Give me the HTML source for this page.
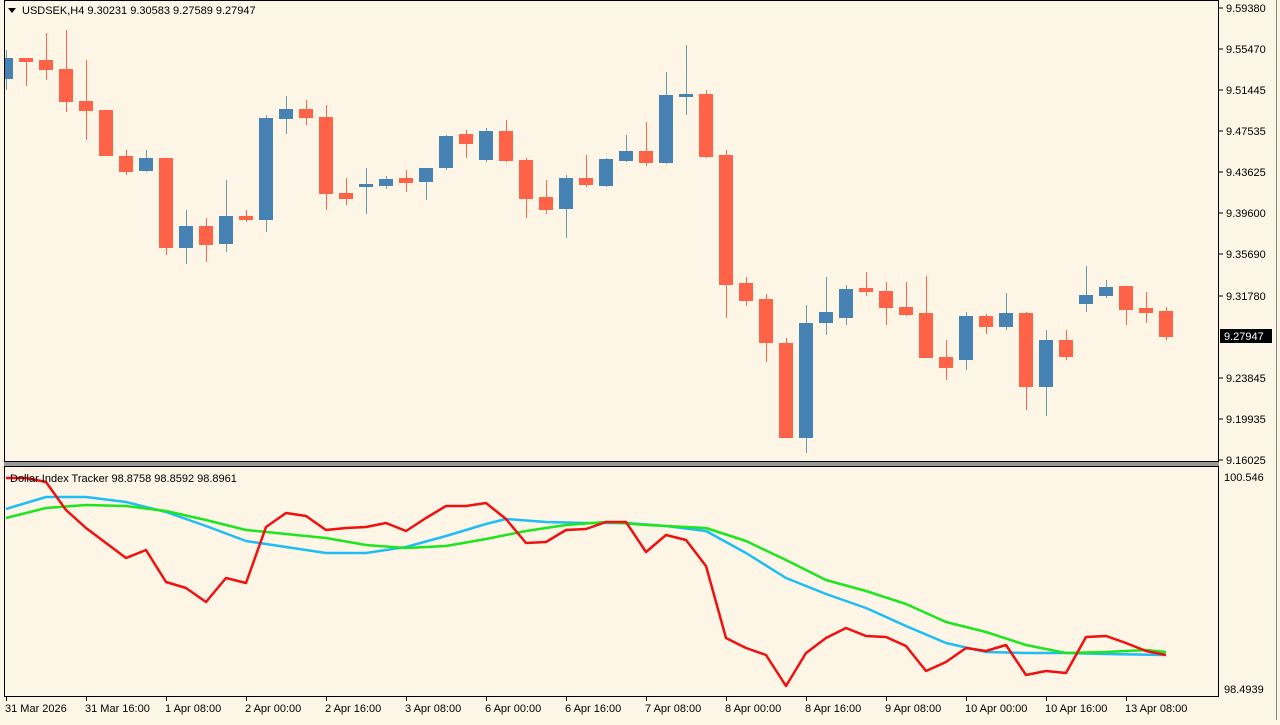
<!DOCTYPE html><html><head><meta charset="utf-8"><style>
body{margin:0;background:#fdf5e6;width:1280px;height:720px;overflow:hidden;font-family:"Liberation Sans",sans-serif}
svg text{font-family:"Liberation Sans",sans-serif;font-size:11px;fill:#000}
</style></head><body>
<svg id="s" width="1280" height="720" xmlns="http://www.w3.org/2000/svg">
<rect width="1280" height="720" fill="#fdf5e6"/>
<g id="c"></g>
<rect x="4.5" y="0.5" width="1214" height="461" fill="none" stroke="#000"/>
<rect x="4.5" y="466.5" width="1214" height="230" fill="none" stroke="#000"/>
<rect x="4" y="462" width="1215" height="4" fill="#999"/>
<line x1="1276.5" y1="0" x2="1276.5" y2="720" stroke="#888"/>
<polygon points="8,8 16,8 12,13" fill="#000"/>
<text x="22" y="14">USDSEK,H4  9.30231 9.30583 9.27589 9.27947</text>
<text x="10" y="482">Dollar Index Tracker 98.8758 98.8592 98.8961</text>
<rect x="1220" y="329" width="52" height="14" fill="#000"/>
<text x="1224" y="340" style="fill:#fff">9.27947</text>
</svg>
<script>
const c=document.getElementById('c');let h='';
const C=[['b',58,79,50,90],['r',58,62,58,86],['r',60,70,33,80],['r',69,102,30,112],['r',101,111,60,140],['r',110,156,110,156],['r',156,172,150,175],['b',158,171,150,172],['r',158,248,158,255],['b',226,248,210,264],['r',226,245,218,262],['b',216,244,180,252],['r',216,220,210,222],['b',118,220,115,232],['b',109,119,96,134],['r',109,118,100,125],['r',117,194,105,210],['r',193,199,178,205],['b',184,187,168,214],['b',179,186,176,189],['r',178,183,170,192],['b',168,182,168,200],['b',136,168,135,170],['r',134,144,130,158],['b',131,160,128,162],['r',131,161,120,162],['r',160,199,158,218],['r',197,210,180,214],['b',178,209,175,238],['r',178,185,155,187],['b',159,186,158,187],['b',151,161,135,162],['r',151,163,122,166],['b',95,163,72,164],['b',94,97,45,115],['r',94,157,90,158],['r',155,285,150,318],['r',283,301,277,306],['r',299,343,294,362],['r',343,438,338,438],['b',323,438,305,453],['b',312,323,277,335],['b',289,318,285,325],['r',288,292,272,296],['r',291,308,282,325],['r',307,315,282,316],['r',313,358,276,358],['r',357,368,340,380],['b',316,360,312,370],['r',316,327,314,334],['b',313,327,293,330],['r',313,387,312,410],['b',340,387,330,416],['r',340,357,330,360],['b',295,304,266,312],['b',287,296,280,298],['r',286,310,286,325],['r',308,313,292,323],['r',311,337,307,340]];
C.forEach((d,k)=>{const x=6+20*k;const col=d[0]=='r'?'#ff6347':'#4682b4';const wc=d[0]=='r'?'#ff6347':'#6a9aa8';
h+=`<line x1="${x+.5}" y1="${d[3]}" x2="${x+.5}" y2="${d[4]}" stroke="${wc}"/>`;
let x0=Math.max(x-7,5);h+=`<rect x="${x0}" y="${d[1]}" width="${x+7-x0}" height="${Math.max(d[2]-d[1],2)}" fill="${col}"/>`;});
const line=(p,col)=>h+=`<polyline points="${p}" fill="none" stroke="${col}" stroke-width="2.5" stroke-linejoin="round"/>`;
line("1166,655 1106,654 1066,653 1026,653 986,652 946,643 906,626 866,608 826,594 786,578 746,553 706,531 666,526 626,523 586,523 546,522 506,519 486,524 446,536 406,547 366,553 326,553 286,547 246,541 206,526 166,512 126,502 86,497 46,497 6,509".split(' ').reverse().join(' '),'#1ebdf5');
line("6,518 46,508 86,505 126,506 166,511 206,520 246,530 286,534 326,538 366,545 406,548 446,546 486,539 526,531 566,525 606,522 646,525 706,528 746,541 786,560 826,580 866,591 906,604 946,622 986,632 1026,645 1066,653 1106,652 1146,650 1166,652",'#1ee61e');
line("6,478 26,478 46,482 66,510 86,528 106,543 126,558 146,550 166,582 186,588 206,602 226,578 246,583 266,527 286,513 306,516 326,530 346,528 366,527 386,523 406,531 426,518 446,506 466,506 486,503 506,519 526,543 546,542 566,530 586,529 606,522 626,522 646,552 666,535 686,540 706,566 726,638 746,648 766,655 786,686 806,653 826,638 846,628 866,636 886,637 906,646 926,671 946,662 966,648 986,651 1006,645 1026,675 1046,671 1066,673 1086,637 1106,636 1126,643 1146,651 1166,655",'#f01010');
const P=[['9.59380',8],['9.55470',49],['9.51445',90],['9.47535',131],['9.43625',172],['9.39600',213],['9.35690',254],['9.31780',296],['9.23845',378],['9.19935',419],['9.16025',460]];
P.forEach(p=>{h+=`<line x1="1219" y1="${p[1]}" x2="1223" y2="${p[1]}" stroke="#000"/><text x="1226" y="${p[1]+4}">${p[0]}</text>`});
h+=`<text x="1224" y="481">100.546</text><text x="1224" y="693">98.4939</text>`;
const T=['31 Mar 2026','31 Mar 16:00','1 Apr 08:00','2 Apr 00:00','2 Apr 16:00','3 Apr 08:00','6 Apr 00:00','6 Apr 16:00','7 Apr 08:00','8 Apr 00:00','8 Apr 16:00','9 Apr 08:00','10 Apr 00:00','10 Apr 16:00','13 Apr 08:00'];
T.forEach((t,i)=>{const x=i==0?6:6+80*i;h+=`<line x1="${x+.5}" y1="697" x2="${x+.5}" y2="701" stroke="#000"/><text x="${x-1}" y="712">${t}</text>`});
c.innerHTML=h;
</script>
</body></html>
